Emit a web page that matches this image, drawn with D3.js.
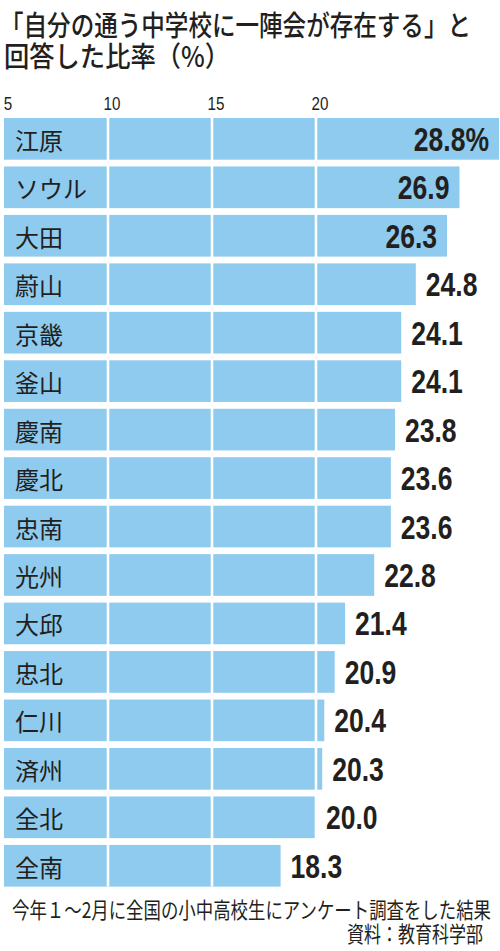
<!DOCTYPE html>
<html>
<head>
<meta charset="utf-8">
<script src="https://cdn.jsdelivr.net/npm/d3@7"></script>
<style>
  html, body { margin: 0; padding: 0; background: #fff; }
  svg { display: block; }
  .jp { font-family: "Noto Sans CJK JP", sans-serif; fill: #231f20; }
  .num { font-family: "Liberation Sans", Arial, sans-serif; fill: #231f20; }
</style>
</head>
<body>
<svg id="chart" width="500" height="951"></svg>
<script>
// data
const regions = ["江原", "ソウル", "大田", "蔚山", "京畿", "釜山", "慶南", "慶北",
  "忠南", "光州", "大邱", "忠北", "仁川", "済州", "全北", "全南"];
const rates = [28.8, 26.9, 26.3, 24.8, 24.1, 24.1, 23.8, 23.6,
  23.6, 22.8, 21.4, 20.9, 20.4, 20.3, 20.0, 18.3];
const ticks = [5, 10, 15, 20];
const titleLines = ["「自分の通う中学校に一陣会が存在する」と", "回答した比率（%）"];
const noteLines = ["今年１～2月に全国の小中高校生にアンケート調査をした結果", "資料：教育科学部"];

// --- params ---
const W = 500;
const barColor = "#8ecbee";
const valueSize = 34;
const labelSize = 24;
const narrow = 0.78; // squeeze for the condensed figures

const svg = d3.select("#chart");

const x = d3.scaleLinear().domain([5, 28.8]).range([4, 499]);
const y = d3.scaleBand().domain(regions).range([118, 886.6]).paddingInner(0.14).paddingOuter(0);

// title
svg.append("text")
  .attr("class", "jp")
  .attr("x", 0).attr("y", 36)
  .attr("font-size", 28).attr("font-weight", 500)
  .attr("textLength", 471).attr("lengthAdjust", "spacingAndGlyphs")
  .text(titleLines[0]);
svg.append("text")
  .attr("class", "jp")
  .attr("x", 4).attr("y", 67)
  .attr("font-size", 28).attr("font-weight", 500)
  .attr("textLength", 226).attr("lengthAdjust", "spacingAndGlyphs")
  .text(titleLines[1]);

// tick labels
svg.append("g").selectAll("text")
  .data(ticks)
  .join("text")
  .attr("class", "num")
  .attr("transform", d => `translate(${x(d) + 4},110) scale(0.8,1)`)
  .attr("font-size", 19)
  .attr("text-anchor", "middle")
  .text(d => d);

// bars
svg.append("g").selectAll("rect")
  .data(rates)
  .join("rect")
  .attr("x", x(5))
  .attr("y", (d, i) => y(regions[i]))
  .attr("width", d => x(d) - x(5))
  .attr("height", y.bandwidth())
  .attr("fill", barColor);

// white grid lines over the bars
svg.append("g").selectAll("line")
  .data(ticks.slice(1))
  .join("line")
  .attr("x1", d => x(d)).attr("x2", d => x(d))
  .attr("y1", y.range()[0]).attr("y2", y.range()[1])
  .attr("stroke", "#fff")
  .attr("stroke-width", 2.6);

// region labels
svg.append("g").selectAll("text")
  .data(regions)
  .join("text")
  .attr("class", "jp")
  .attr("x", 15)
  .attr("y", d => y(d) + y.bandwidth() / 2 + 11)
  .attr("font-size", labelSize)
  .text(d => d);

// values: inside the bar when there is no room on the right
const vals = svg.append("g").selectAll("text")
  .data(rates)
  .join("text")
  .attr("class", "num")
  .attr("font-size", valueSize)
  .attr("font-weight", 700)
  .text((d, i) => d.toFixed(1) + (i === 0 ? "%" : ""));

vals.each(function (d, i) {
  const t = d3.select(this);
  const w = this.getComputedTextLength() * narrow;
  const ty = y(regions[i]) + y.bandwidth() / 2 + 12;
  const inside = x(d) + 10 + w > W;
  const tx = inside ? x(d) - 10 : x(d) + 10;
  t.attr("text-anchor", inside ? "end" : "start")
    .attr("transform", `translate(${tx},${ty}) scale(${narrow},1)`);
});

// note
svg.append("text")
  .attr("class", "jp")
  .attr("x", 12).attr("y", 918)
  .attr("font-size", 22)
  .attr("textLength", 479).attr("lengthAdjust", "spacingAndGlyphs")
  .text(noteLines[0]);
svg.append("text")
  .attr("class", "jp")
  .attr("x", 483).attr("y", 942)
  .attr("font-size", 22)
  .attr("text-anchor", "end")
  .attr("textLength", 136).attr("lengthAdjust", "spacingAndGlyphs")
  .text(noteLines[1]);
</script>
</body>
</html>
